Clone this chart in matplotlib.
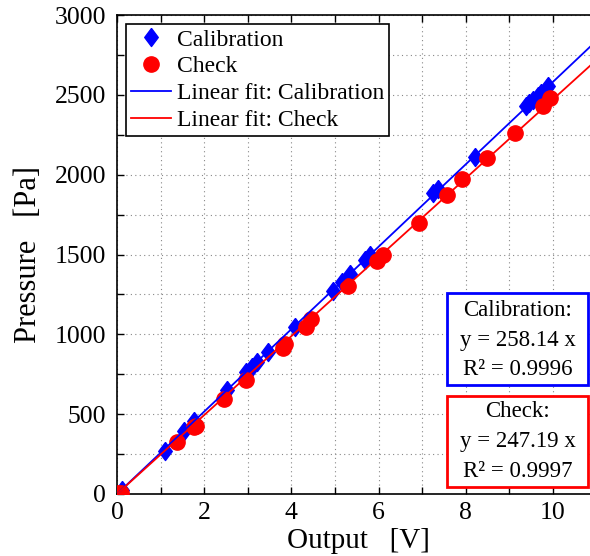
import numpy as np
import matplotlib.pyplot as plt
from matplotlib.patches import Rectangle

plt.rcParams['font.family'] = ['Liberation Serif', 'DejaVu Serif']

# calibration points (output V, pressure Pa)
cal_v = [0.12, 1.1, 1.54, 1.77, 2.52, 2.96, 3.1, 3.2, 3.46, 4.08, 4.95, 5.16,
         5.34, 5.69, 5.8, 7.25, 7.36, 8.21, 9.38, 9.45, 9.55, 9.65, 9.72, 9.88]
cal_p = [25, 272, 394, 455, 651, 764, 795, 826, 889, 1046, 1274, 1328,
         1380, 1465, 1497, 1885, 1910, 2110, 2430, 2450, 2470, 2495, 2510, 2555]

# check points
chk_v = [0.03, 0.1, 1.37, 1.77, 1.81, 2.46, 2.96, 3.81, 3.85, 4.33, 4.45, 5.3,
         5.96, 6.1, 6.93, 7.57, 7.91, 8.49, 9.13, 9.77, 9.93]
chk_p = [5, 8, 325, 418, 424, 597, 714, 914, 939, 1046, 1096, 1300,
         1459, 1497, 1697, 1872, 1972, 2104, 2260, 2429, 2479]

cal_slope = 258.14
chk_slope = 247.19
cal_r2 = 0.9996
chk_r2 = 0.9997

x_ticks = list(range(0, 11))
x_labels = [str(v) if v % 2 == 0 else '' for v in x_ticks]
y_ticks = list(range(0, 3001, 250))
y_labels = [str(v) if v % 500 == 0 else '' for v in y_ticks]

# matlab-like diamond
diamond = [(0, 1), (0.75, 0), (0, -1), (-0.75, 0), (0, 1)]

fig = plt.figure(figsize=(5.9, 5.56), dpi=100)
ax = fig.add_axes([117/590, 62/556, 473/590, 479/556])

xfit = np.array([0, 11.0])
ax.plot(cal_v, cal_p, linestyle='none', marker=diamond, color='#0000ff',
        markersize=13, label='Calibration', zorder=3)
ax.plot(chk_v, chk_p, 'o', color='#ff0000', markersize=11, label='Check', zorder=3)
ax.plot(xfit, cal_slope * xfit, '-', color='#0000ff', lw=1.3, label='Linear fit: Calibration', zorder=4)
ax.plot(xfit, chk_slope * xfit, '-', color='#ff0000', lw=1.3, label='Linear fit: Check', zorder=4)

ax.set_xlim(0, 473/43.6)
ax.set_ylim(0, 3000)
ax.set_xticks(x_ticks)
ax.set_xticklabels(x_labels)
ax.set_yticks(y_ticks)
ax.set_yticklabels(y_labels)
ax.tick_params(direction='in', top=True, right=False, labelsize=18.5, length=5, width=1)
ax.tick_params(axis='y', pad=8)
ax.tick_params(axis='x', pad=6)
ax.grid(True, linestyle=(0, (1, 3)), color='#888888', linewidth=0.8)
ax.spines['right'].set_visible(False)
for s in ['left', 'bottom', 'top']:
    ax.spines[s].set_linewidth(1.2)

ax.set_xlabel('Output   [V]', fontsize=21)
ax.set_ylabel('Pressure   [Pa]', fontsize=22)
ax.xaxis.set_label_coords(0.51, -0.07)
ax.yaxis.set_label_coords(-0.157, 0.50)

leg = ax.legend(loc='upper left', fontsize=17, frameon=True, fancybox=False,
                edgecolor='black', framealpha=1, borderpad=0.2, labelspacing=0.22,
                handlelength=1.7, handletextpad=0.25, borderaxespad=0.4)
leg.get_frame().set_linewidth(1.2)

# result boxes
ax.add_patch(Rectangle((0.698, 0.2276), 0.298, 0.192, transform=ax.transAxes,
                       fc='white', ec='#0000ff', lw=2, zorder=5))
ax.add_patch(Rectangle((0.698, 0.0146), 0.298, 0.19, transform=ax.transAxes,
                       fc='white', ec='#ff0000', lw=2, zorder=5))
ax.text(0.847, 0.3215, 'Calibration:\ny = %.2f x\nR² = %.4f' % (cal_slope, cal_r2),
        transform=ax.transAxes, ha='center', va='center', fontsize=16.5,
        linespacing=1.55, zorder=6)
ax.text(0.847, 0.1096, 'Check:\ny = %.2f x\nR² = %.4f' % (chk_slope, chk_r2),
        transform=ax.transAxes, ha='center', va='center', fontsize=16.5,
        linespacing=1.55, zorder=6)

fig.savefig('out.png', dpi=100)
